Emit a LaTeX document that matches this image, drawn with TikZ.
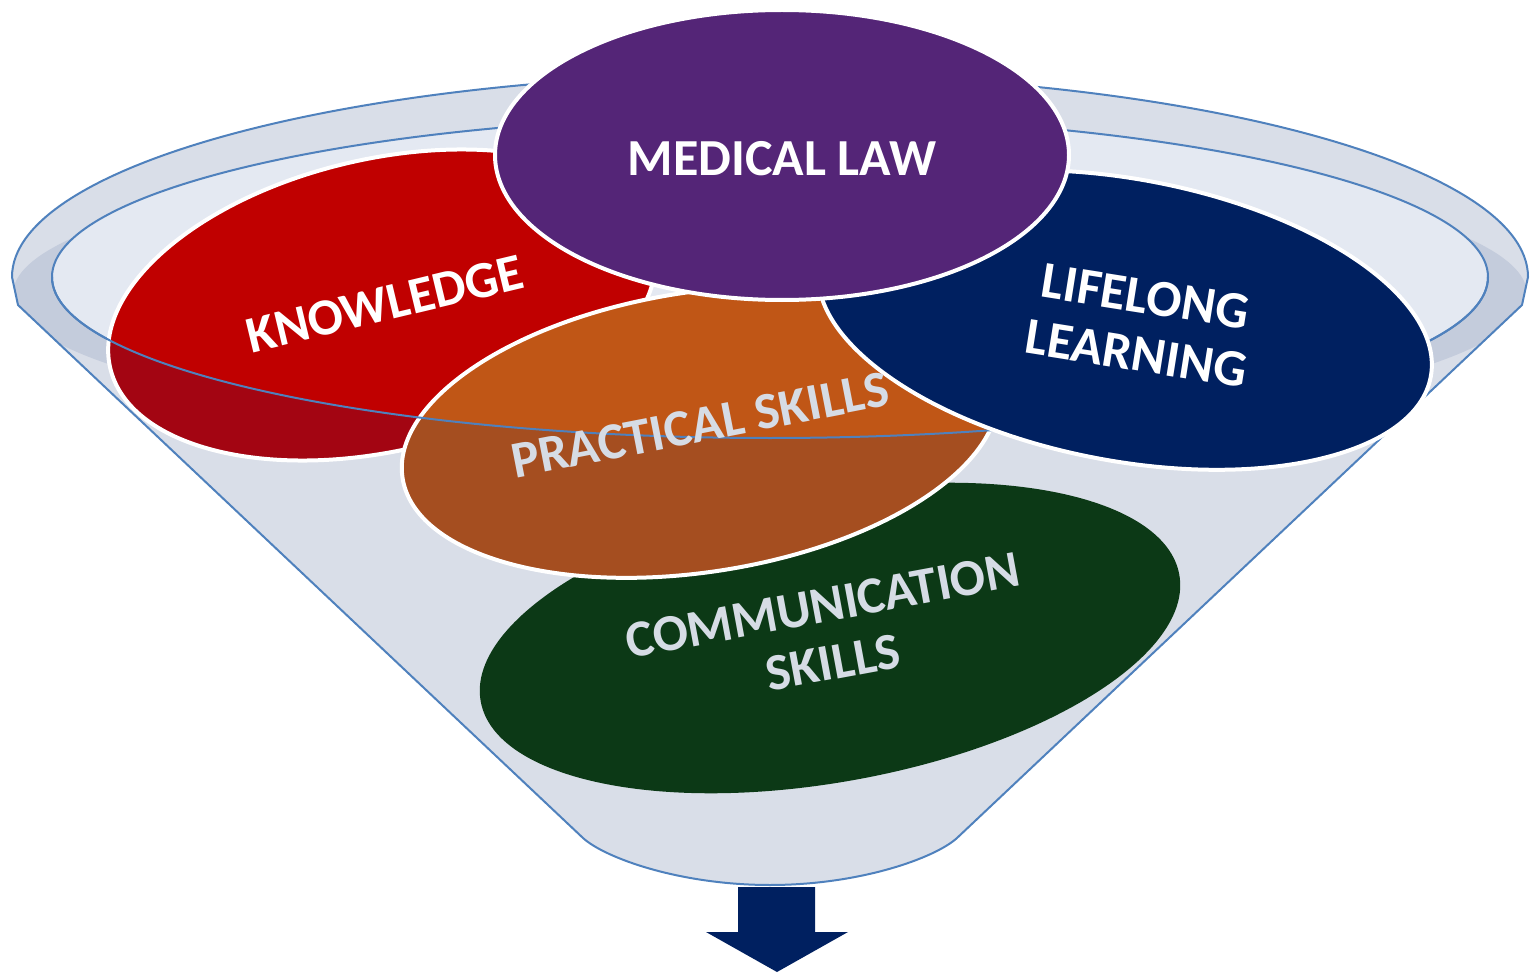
\documentclass[tikz,border=0pt]{standalone}
\usepackage{fontspec}
\setmainfont{Carlito}
\definecolor{fline}{RGB}{79,129,189}
\definecolor{fbody}{RGB}{217,222,232}
\definecolor{fopen}{RGB}{228,233,242}
\definecolor{fdark}{RGB}{196,204,220}
\definecolor{cknow}{RGB}{192,0,0}
\definecolor{cknowd}{RGB}{163,5,18}
\definecolor{cprac}{RGB}{192,86,22}
\definecolor{cpracd}{RGB}{165,78,32}
\definecolor{clife}{RGB}{0,32,96}
\definecolor{ccomm}{RGB}{12,57,22}
\definecolor{claw}{RGB}{84,37,119}
\definecolor{ctxt}{RGB}{214,220,229}
\tikzset{
  lbl/.style={font=\fontsize{26}{29}\selectfont\bfseries, align=center, inner sep=0pt},
  bord/.style={draw=white, line width=2pt},
  fstroke/.style={draw=fline, line width=1pt, line join=round},
}
\begin{document}
\begin{tikzpicture}[x=0.5pt,y=0.5pt]
\useasboundingbox (0,0) rectangle (1533,-974);
\def\bodypath{(18,-305) -- (583,-838) .. controls (605,-858) and (680,-885) .. (770,-885) .. controls (860,-885) and (935,-858) .. (957,-838) -- (1522,-305) -- (1528,-277) arc[start angle=0,end angle=180,x radius=758,y radius=203] -- cycle}
\def\frontpath{(0,-277) -- (52,-277) arc[start angle=180,end angle=360,x radius=718,y radius=161] -- (1533,-277) -- (1533,-974) -- (0,-974) -- cycle}
% funnel body and rim
\fill[fbody] \bodypath;
\begin{scope}
  \clip \bodypath;
  \fill[fdark] (770,-294) ellipse[x radius=757, y radius=144];
  \fill[fbody] (13,-288) arc[start angle=180,end angle=0,x radius=757,y radius=154] -- (1533,-288) -- (1533,0) -- (0,0) -- (0,-288) -- cycle;
\end{scope}
\fill[fopen] (770,-277) ellipse[x radius=718,y radius=161];
\draw[fstroke] (770,-277) ellipse[x radius=718,y radius=161];
\draw[fstroke] \bodypath;
% knowledge
\begin{scope}[shift={(382,-305)},rotate=13]
  \fill[cknow] (0,0) ellipse[x radius=279,y radius=146];
\end{scope}
\begin{scope}
  \clip \frontpath;
  \begin{scope}[shift={(382,-305)},rotate=13]
    \fill[cknowd] (0,0) ellipse[x radius=279,y radius=146];
  \end{scope}
\end{scope}
\begin{scope}[shift={(382,-305)},rotate=13]
  \path[bord] (0,0) ellipse[x radius=279,y radius=146];
\end{scope}
% communication
\begin{scope}[shift={(830,-638)},rotate=10.3]
  \fill[ccomm] (0,0) ellipse[x radius=355,y radius=144];
\end{scope}
% practical
\begin{scope}[shift={(700,-432)},rotate=8.8]
  \fill[cprac] (0,0) ellipse[x radius=301,y radius=140];
\end{scope}
\begin{scope}
  \clip \frontpath;
  \begin{scope}[shift={(700,-432)},rotate=8.8]
    \fill[cpracd] (0,0) ellipse[x radius=301,y radius=140];
  \end{scope}
\end{scope}
\begin{scope}[shift={(700,-432)},rotate=8.8]
  \path[bord] (0,0) ellipse[x radius=301,y radius=140];
\end{scope}
% front rim line
\draw[fstroke] (52,-277) arc[start angle=180,end angle=360,x radius=718,y radius=161];
% lifelong
\begin{scope}[shift={(1125,-320)},rotate=-10.5]
  \path[fill=clife, bord] (0,0) ellipse[x radius=311,y radius=141];
\end{scope}
% medical law
\path[fill=claw, bord] (782,-155) ellipse[x radius=287,y radius=145];
% arrow
\fill[clife] (738,-887) -- (815,-887) -- (815,-932) -- (848,-932) -- (777,-972) -- (706,-932) -- (738,-932) -- cycle;
% labels
\node[lbl, text=white] (tlaw) at (782,-159) {MEDICAL LAW};
\node[lbl, text=white, rotate=13.5] (tknow) at (385,-304) {KNOWLEDGE};
\node[lbl, text=ctxt, rotate=11] (tprac) at (700,-425) {PRACTICAL SKILLS};
\node[lbl, text=ctxt, rotate=10.5] (tcomm) at (828,-634) {COMMUNICATION\\SKILLS};
\node[lbl, text=white, rotate=-9] (tlife) at (1141,-325) {LIFELONG\\LEARNING};
\end{tikzpicture}
\end{document}
